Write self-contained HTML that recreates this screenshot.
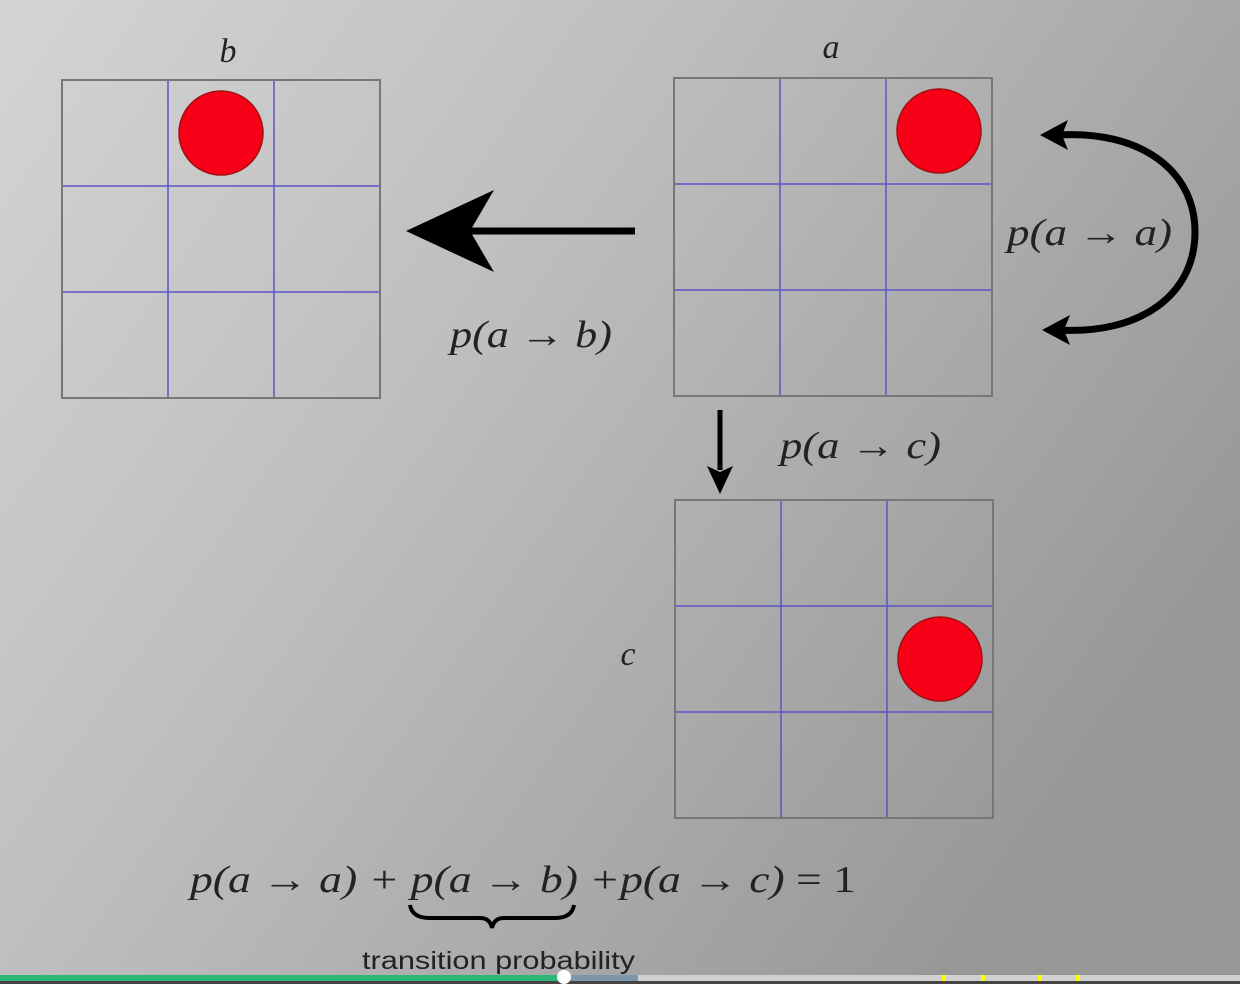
<!DOCTYPE html>
<html><head><meta charset="utf-8"><style>
html,body{margin:0;padding:0;width:1240px;height:984px;overflow:hidden}
svg{display:block}
.m{font-family:"Liberation Serif","DejaVu Serif",serif;font-style:italic;fill:#222}
</style></head><body>
<svg width="1240" height="984" viewBox="0 0 1240 984">
<defs>
<linearGradient id="bg" x1="0" y1="0" x2="1" y2="0.55">
<stop offset="0" stop-color="#d4d4d4"/><stop offset="0.45" stop-color="#bdbdbd"/><stop offset="1" stop-color="#989898"/>
</linearGradient>
</defs>
<rect width="1240" height="984" fill="url(#bg)"/>
<g id="grids"></g>
<text x="228" y="62" class="m" font-size="34" text-anchor="middle">b</text>
<text x="831" y="58" class="m" font-size="34" text-anchor="middle">a</text>
<text x="628" y="665" class="m" font-size="34" text-anchor="middle">c</text>
<g>
<line x1="635" y1="231" x2="450" y2="231" stroke="#000" stroke-width="7"/>
<path d="M406,231 L494,190 L470,231 L494,272 Z" fill="#000"/>
</g>
<text x="450" y="347" class="m" font-size="38" textLength="162" lengthAdjust="spacingAndGlyphs">p(a → b)</text>
<g>
<path d="M1058,135 C1140,130 1195,170 1195,232 C1195,295 1140,335 1058,330" fill="none" stroke="#000" stroke-width="7"/>
<path d="M1040,135 L1068,120 L1062,135 L1068,150 Z" fill="#000"/>
<path d="M1042,330 L1070,315 L1064,330 L1070,345 Z" fill="#000"/>
</g>
<text x="1007" y="245" class="m" font-size="38" textLength="165" lengthAdjust="spacingAndGlyphs">p(a → a)</text>
<g>
<line x1="720" y1="410" x2="720" y2="470" stroke="#000" stroke-width="5"/>
<path d="M720,494 L707,466 L720,472 L733,466 Z" fill="#000"/>
</g>
<text x="780" y="458" class="m" font-size="38" textLength="161" lengthAdjust="spacingAndGlyphs">p(a → c)</text>
<text x="190" y="892" class="m" font-size="38" textLength="666" lengthAdjust="spacingAndGlyphs">p(a → a) + p(a → b) +p(a → c) <tspan font-style="normal">= 1</tspan></text>
<path d="M410,905 Q412,918 430,918 L480,918 Q490,918 492,928 Q494,918 504,918 L555,918 Q572,918 574,905" fill="none" stroke="#000" stroke-width="4"/>
<text x="362" y="969" font-family="Liberation Sans,sans-serif" font-size="25" fill="#222" textLength="273" lengthAdjust="spacingAndGlyphs">transition probability</text>
<g>
<rect x="0" y="975" width="1240" height="6" fill="#d0d0d0"/>
<rect x="0" y="975" width="638" height="6" fill="#7e96aa"/>
<rect x="0" y="975" width="563" height="6" fill="#2cb874"/>
<rect x="0" y="981" width="1240" height="3" fill="#444"/>
<rect x="942" y="975" width="4" height="6" fill="#ffff00"/>
<rect x="981" y="975" width="4" height="6" fill="#ffff00"/>
<rect x="1038" y="975" width="4" height="6" fill="#ffff00"/>
<rect x="1076" y="975" width="4" height="6" fill="#ffff00"/>
<ellipse cx="564" cy="977" rx="7" ry="7" fill="#fff"/>
</g>
</svg>
<script>
const gridNames=['grid-b','grid-a','grid-c'];
const gridX=[62,674,675], gridY=[80,78,500];
const ballCol=[1,2,2], ballRow=[0,0,1];
const S=318, NS='http://www.w3.org/2000/svg';
const g=document.getElementById('grids');
for(let i=0;i<3;i++){
  const grp=document.createElementNS(NS,'g');
  
  
  const x=gridX[i],y=gridY[i],c=S/3;
  let h='';
  for(let k=1;k<3;k++){
    h+=`<line x1="${x+k*c}" y1="${y}" x2="${x+k*c}" y2="${y+S}" stroke="#5a55c8" stroke-width="1.5"/>`;
    h+=`<line x1="${x}" y1="${y+k*c}" x2="${x+S}" y2="${y+k*c}" stroke="#5a55c8" stroke-width="1.5"/>`;
  }
  h+=`<rect x="${x}" y="${y}" width="${S}" height="${S}" fill="none" stroke="#777" stroke-width="2"/>`;
  grp.innerHTML=h;
  const ball=document.createElementNS(NS,'circle');
  ball.setAttribute('cx',x+c*ballCol[i]+c/2);
  ball.setAttribute('cy',y+c*ballRow[i]+c/2);
  ball.setAttribute('r',42);
  ball.setAttribute('fill','#f80018');
  ball.setAttribute('stroke','#a01010');
  ball.setAttribute('stroke-width','1.5');
  
  
  grp.appendChild(ball);
  g.appendChild(grp);
}
</script>
</body></html>
